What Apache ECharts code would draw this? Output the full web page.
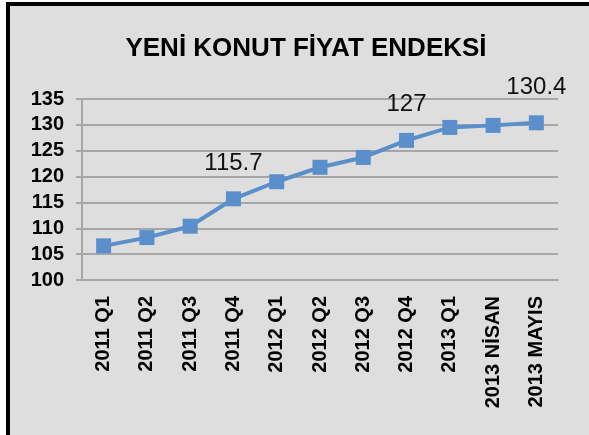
<!DOCTYPE html>
<html>
<head>
<meta charset="utf-8">
<script src="https://cdn.jsdelivr.net/npm/echarts@6/dist/echarts.min.js"></script>
<style>
  html, body { margin: 0; padding: 0; background: #fff; }
  #frame {
    position: absolute; left: 6px; top: 2px; right: 0; bottom: 0;
    border-top: 4px solid #000; border-left: 4px solid #000;
    background: #dedede;
  }
  #chart { position: absolute; left: 0; top: 0; width: 589px; height: 435px; }
</style>
</head>
<body>
<div id="frame"></div>
<div id="chart"></div>
<script>
const categories = ['2011 Q1', '2011 Q2', '2011 Q3', '2011 Q4', '2012 Q1', '2012 Q2',
  '2012 Q3', '2012 Q4', '2013 Q1', '2013 NİSAN', '2013 MAYIS']
const values = [106.6, 108.2, 110.4, 115.7, 119.0, 121.8, 123.7, 127, 129.5, 129.9, 130.4]
// only these points carry a value label
const labelled = ['2011 Q4', '2012 Q4', '2013 MAYIS']

const seriesData = values.map((v, i) => ({
  value: v,
  label: { show: labelled.includes(categories[i]) }
}))

const gridColor = '#a6a6a6'
let myChart = echarts.init(document.getElementById('chart'))
myChart.setOption({
  animation: false,
  title: {
    text: 'YENİ KONUT FİYAT ENDEKSİ',
    left: 301,
    top: 31,
    textAlign: 'center',
    textStyle: { fontFamily: 'Liberation Sans', fontWeight: 'bold', fontSize: 26, color: '#000' }
  },
  grid: { left: 82, right: 31, top: 99, bottom: 155 },
  xAxis: {
    type: 'category',
    data: categories,
    boundaryGap: true,
    axisLine: { lineStyle: { color: gridColor, width: 2 } },
    axisTick: { length: 5, lineStyle: { color: gridColor, width: 2 } },
    axisLabel: {
      rotate: 90, margin: 16, interval: 0,
      fontFamily: 'Liberation Sans', fontWeight: 'bold', fontSize: 20, color: '#000'
    }
  },
  yAxis: {
    type: 'value',
    min: 100, max: 135, interval: 5,
    axisLine: { show: true, lineStyle: { color: gridColor, width: 2 } },
    axisTick: { show: true, length: 6, lineStyle: { color: gridColor, width: 2 } },
    splitLine: { lineStyle: { color: gridColor, width: 2 } },
    axisLabel: {
      margin: 18,
      fontFamily: 'Liberation Sans', fontWeight: 'bold', fontSize: 20, color: '#000'
    }
  },
  series: [{
    type: 'line',
    data: seriesData,
    symbol: 'rect',
    symbolSize: 15,
    color: '#5a8fcb',
    lineStyle: { width: 4, color: '#5a8fcb' },
    itemStyle: { color: '#5a8fcb' },
    label: {
      position: 'top', distance: 16,
      fontFamily: 'Liberation Sans', fontSize: 24, color: '#111'
    }
  }]
})
</script>
</body>
</html>
